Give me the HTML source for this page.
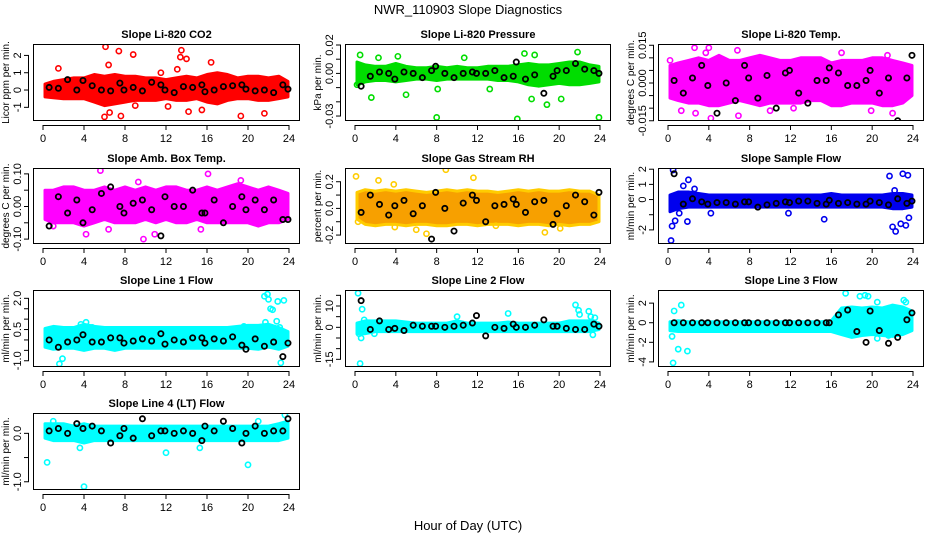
<!DOCTYPE html>
<html><head><meta charset="utf-8">
<style>
html,body{margin:0;padding:0;background:#fff;}
svg{display:block;font-family:"Liberation Sans",sans-serif;}
</style></head>
<body>
<svg id="chart" width="936" height="540" viewBox="0 0 936 540">
<text x="468" y="14" text-anchor="middle" font-size="13">NWR_110903  Slope Diagnostics</text>
<text x="468" y="530" text-anchor="middle" font-size="13">Hour of Day (UTC)</text>
</svg>
<script>
// shared hours
const xTicks = [0,4,8,12,16,20,24];
const bandHours = [0.2,1,2,3,4,5,6,7,8,9,10,11,12,13,14,15,16,17,18,19,20,21,22,23,23.9];
const blackHours = [0.6,1.5,2.4,3.3,3.9,4.8,5.7,6.6,7.5,7.9,8.8,9.7,10.6,11.5,11.9,12.8,13.7,14.6,15.5,15.8,16.7,17.6,18.5,19.4,19.8,20.7,21.6,22.5,23.4,23.9];

// Panel 1: CO2
const co2Ticks = [-1,0,1,2];
const co2Labels = ["-1","0","1","2"];
const co2Lo = [-0.4,-0.45,-0.5,-0.5,-0.5,-0.7,-0.9,-0.8,-0.7,-0.6,-0.6,-0.6,-0.5,-0.6,-0.6,-0.5,-0.7,-0.8,-0.6,-0.5,-0.5,-0.6,-0.6,-0.5,-0.4];
const co2Hi = [0.35,0.5,0.6,0.7,0.7,0.9,0.8,0.9,0.8,0.8,0.7,0.7,0.6,0.7,0.8,0.7,0.9,1.0,0.9,0.7,0.8,0.8,0.7,0.8,0.5];
const co2Out = [[6.1,2.5],[7.4,2.25],[8.8,2.05],[13.5,2.3],[13.4,1.9],[14,1.8],[1.5,1.25],[6.4,1.45],[13.1,1.2],[16.4,1.6],[6,-1.55],[7.6,-1.5],[19.3,-1.5],[21.6,-1.35],[14.2,-1.25],[15.5,-1.15],[9,-0.9],[12.2,-0.95],[6.5,-1.3],[11.5,1.0]];
const co2Black = [0.15,0.1,0.6,0.0,0.55,0.25,0.0,-0.05,0.4,0.0,0.15,-0.05,0.45,0.3,0.0,-0.15,0.2,0.15,0.3,-0.1,0.0,0.2,0.25,0.3,0.05,-0.05,0.0,-0.15,0.3,0.05];

// Panel 2: Pressure
const prTicks = [-0.03,-0.02,-0.01,0,0.01,0.02];
const prLabels = ["-0.03","","","0.00","","0.02"];
const prLo = [-0.008,-0.006,-0.005,-0.005,-0.006,-0.005,-0.004,-0.004,-0.005,-0.004,-0.004,-0.004,-0.004,-0.004,-0.005,-0.005,-0.006,-0.008,-0.009,-0.008,-0.007,-0.008,-0.008,-0.007,-0.006];
const prHi = [0.008,0.006,0.005,0.005,0.007,0.005,0.004,0.004,0.005,0.004,0.005,0.004,0.004,0.005,0.005,0.005,0.006,0.007,0.006,0.006,0.007,0.008,0.008,0.006,0.005];
const prOut = [[0.5,0.013],[2.3,0.011],[4.2,0.012],[10.7,0.011],[16.6,0.014],[17.6,0.013],[21.8,0.015],[1.6,-0.017],[5,-0.015],[8,-0.031],[15.9,-0.032],[23.9,-0.031],[18.8,-0.022],[20.2,-0.018],[17.3,-0.018],[13.2,-0.011],[8.1,-0.011],[0.2,-0.008]];
const prBlack = [-0.009,-0.002,0.001,0.0,-0.004,0.001,0.0,-0.003,0.002,0.005,0.0,-0.003,0.0,0.001,0.0,0.0,0.002,-0.003,-0.002,0.008,-0.004,-0.001,-0.014,-0.002,0.002,0.002,0.007,0.003,0.002,0.0];

// Panel 3: Li-820 Temp
const tpTicks = [-0.015,-0.01,-0.005,0,0.005,0.01,0.015];
const tpLabels = ["-0.015","","","0.000","","","0.015"];
const tpLo = [-0.006,-0.007,-0.008,-0.008,-0.009,-0.009,-0.008,-0.007,-0.008,-0.009,-0.008,-0.008,-0.008,-0.008,-0.007,-0.007,-0.009,-0.009,-0.008,-0.008,-0.008,-0.009,-0.009,-0.008,-0.005];
const tpHi = [0.007,0.008,0.009,0.010,0.009,0.011,0.009,0.009,0.010,0.011,0.010,0.009,0.009,0.010,0.010,0.010,0.008,0.009,0.009,0.009,0.010,0.010,0.009,0.008,0.007];
const tpOut = [[2.6,0.014],[4,0.014],[6.8,0.013],[0.2,0.009],[4.2,-0.014],[6.9,-0.013],[1.3,-0.011],[2.7,-0.012],[22,-0.012],[19.9,-0.011],[10,-0.011],[12.3,-0.010],[17,0.012],[3.7,0.012],[21.5,0.011]];
const tpBlack = [0.001,-0.004,0.002,0.007,-0.001,-0.012,0.0,-0.007,0.007,0.002,-0.006,0.003,-0.010,0.004,0.005,-0.004,-0.008,0.001,0.001,0.006,0.004,-0.001,-0.001,0.001,0.005,-0.004,0.002,-0.015,0.002,0.011];

// Panel 4: Amb Box Temp
const abTicks = [-0.1,-0.05,0,0.05,0.1];
const abLabels = ["-0.10","","0.00","","0.10"];
const abLo = [-0.04,-0.05,-0.05,-0.05,-0.06,-0.05,-0.04,-0.05,-0.05,-0.05,-0.04,-0.05,-0.04,-0.05,-0.05,-0.04,-0.05,-0.05,-0.05,-0.05,-0.05,-0.06,-0.05,-0.05,-0.04];
const abHi = [0.05,0.05,0.06,0.06,0.05,0.05,0.06,0.05,0.06,0.05,0.06,0.05,0.06,0.06,0.05,0.05,0.06,0.05,0.06,0.07,0.06,0.05,0.06,0.05,0.04];
const abOut = [[5.6,0.11],[16.1,0.10],[9.8,-0.10],[4.2,-0.085],[10.9,-0.085],[9.3,0.075],[19.3,0.08],[6.4,-0.07],[15.4,-0.07],[1,-0.06]];
const abBlack = [-0.06,0.03,-0.02,0.02,-0.05,-0.01,0.04,0.06,0.0,-0.02,0.01,0.02,-0.01,-0.09,0.03,0.0,0.0,0.05,-0.02,-0.02,0.02,-0.05,0.0,0.03,-0.01,0.02,-0.01,0.02,-0.04,-0.04];

// Panel 5: Gas Stream RH
const rhTicks = [-0.2,-0.1,0,0.1,0.2];
const rhLabels = ["-0.2","","0.0","","0.2"];
const rhLo = [-0.08,-0.12,-0.13,-0.12,-0.12,-0.13,-0.12,-0.12,-0.13,-0.13,-0.12,-0.12,-0.13,-0.12,-0.12,-0.12,-0.13,-0.12,-0.12,-0.13,-0.12,-0.13,-0.12,-0.12,-0.1];
const rhHi = [0.12,0.14,0.13,0.14,0.13,0.14,0.13,0.12,0.13,0.14,0.13,0.14,0.13,0.13,0.12,0.13,0.14,0.13,0.14,0.13,0.13,0.14,0.13,0.13,0.1];
const rhOut = [[0.1,0.24],[2.3,0.21],[3.8,0.18],[8.9,0.29],[11.6,0.23],[0.3,-0.1],[6,-0.16],[3.9,-0.14],[7,-0.19],[13.8,-0.13],[18.6,-0.18],[20.1,-0.15]];
const rhBlack = [-0.03,0.1,0.03,-0.05,0.02,0.06,-0.04,0.02,-0.23,0.12,0.0,-0.17,0.04,0.1,0.06,-0.1,0.02,0.03,0.07,0.03,-0.03,0.05,0.06,-0.12,-0.04,0.02,0.1,0.05,-0.05,0.12];

// Panel 6: Sample Flow
const sfTicks = [-2,-1,0,1,2];
const sfLabels = ["-2","","0","1","2"];
const sfLo = [-0.8,-0.6,-0.5,-0.5,-0.5,-0.5,-0.5,-0.5,-0.5,-0.5,-0.5,-0.5,-0.5,-0.5,-0.5,-0.5,-0.5,-0.5,-0.5,-0.5,-0.5,-0.5,-0.6,-0.6,-0.5];
const sfHi = [0.3,0.5,0.5,0.4,0.3,0.3,0.3,0.3,0.3,0.3,0.3,0.3,0.3,0.3,0.3,0.3,0.4,0.3,0.3,0.3,0.3,0.3,0.4,0.4,0.3];
const sfOut = [[0.3,-2.7],[0.5,1.95],[0.4,-1.75],[0.7,-1.4],[1.1,-0.9],[1.9,-1.45],[2,1.3],[1.5,0.9],[2.6,0.7],[15.3,-1.3],[21.7,1.55],[22,-1.8],[22.3,-2.1],[22.8,-1.6],[23,1.7],[23.3,-1.7],[23.5,1.6],[23.6,-1.2],[22.2,0.6],[4.2,-0.9],[11.8,-0.9]];
const sfBlack = [1.7,-0.3,0.05,-0.15,-0.3,-0.2,-0.2,-0.3,-0.15,-0.15,-0.5,-0.35,-0.25,-0.15,-0.2,-0.1,-0.1,-0.25,-0.3,-0.05,-0.25,-0.2,-0.3,-0.3,-0.1,-0.2,-0.35,0.05,-0.25,-0.1];

// Panel 7: Line 1 Flow
const l1Ticks = [-1,-0.5,0,0.5,1,1.5,2];
const l1Labels = ["-1.0","","","0.5","","","2.0"];
const l1Lo = [-0.35,-0.45,-0.4,-0.4,-0.5,-0.4,-0.4,-0.5,-0.4,-0.4,-0.4,-0.4,-0.4,-0.4,-0.4,-0.4,-0.4,-0.4,-0.4,-0.4,-0.4,-0.45,-0.35,-0.45,-0.3];
const l1Hi = [0.55,0.65,0.6,0.6,0.75,0.65,0.6,0.6,0.6,0.6,0.6,0.6,0.6,0.6,0.6,0.6,0.6,0.6,0.6,0.65,0.7,0.7,0.75,0.6,0.4];
const l1Out = [[1.6,-1.15],[1.9,-0.9],[4.2,0.85],[3.7,0.75],[4.8,0.6],[21.6,2.1],[21.9,2.2],[22,1.95],[22.2,1.5],[22.4,1.45],[22.9,1.85],[23.5,1.9],[21.7,0.85],[23.1,0.6],[19.6,0.65],[23.2,-1.1],[22.8,0.9]];
const l1Black = [0.0,-0.35,-0.1,0.0,0.25,-0.1,-0.1,0.1,0.1,-0.15,-0.05,0.05,-0.05,0.3,-0.2,0.0,-0.1,0.1,0.1,-0.15,0.05,-0.05,0.15,-0.25,-0.45,0.05,-0.3,-0.1,-0.8,-0.15];

// Panel 8: Line 2 Flow
const l2Ticks = [-15,-10,-5,0,5,10,15];
const l2Labels = ["-15","","","0","","10",""];
const l2Lo = [-3,-3,-2,-2,-2,-2,-2,-2,-2,-2,-2,-2,-2,-2,-2,-2,-2,-2,-2,-2,-2,-2,-2,-2,-1];
const l2Hi = [2,3,3,3,3,2.5,2,2,2,2,3,2,2,2,2,2.5,2,2,2,2,2,3,3,3,2];
const l2Out = [[0.3,16],[0.5,-17],[0.7,8.5],[0.4,-3],[0.6,-5],[1.9,-3],[10,5],[15,6.5],[21.6,10.5],[21.9,8],[22,6],[22.9,7.5],[23.1,5],[23.3,-3.5],[23.5,4.5],[0.9,3.5]];
const l2Black = [12.5,-1,3,-1,-0.5,-1.5,1,0.5,0.5,0.5,0,0.5,1,2,5.5,-4,0,-0.5,1.5,0,0,1,3.5,0.5,0.5,-0.5,-1,-1,1.5,0.5];

// Panel 9: Line 3 Flow
const l3Ticks = [-4,-2,0,2];
const l3Labels = ["-4","-2","0","2"];
const l3Lo = [-0.8,-0.9,-0.9,-0.9,-0.9,-0.9,-0.9,-0.9,-0.9,-0.9,-0.9,-0.9,-0.9,-0.9,-0.9,-0.9,-0.9,-1.2,-1.5,-1.3,-1.2,-1.3,-1.4,-1.2,-0.8];
const l3Hi = [0.1,0.2,0.1,0.1,0.1,0.1,0.1,0.1,0.1,0.1,0.1,0.1,0.1,0.1,0.1,0.1,0.2,1.5,1.6,1.5,1.6,1.5,1.8,1.6,1.2];
const l3Out = [[0.5,-4.1],[0.6,1.2],[1,-2.7],[1.3,1.8],[1.9,-2.9],[0.4,-1.4],[17.4,3.0],[18.8,2.7],[19.3,2.8],[19.6,2.7],[20.5,2.1],[20.5,-1.6],[23.1,2.3],[23.3,2.1],[21.6,-1.3],[21.9,-0.8]];
const l3Black = [0,0,0,0,0,0,0,0,0,0,0,0,0,0,0,0,0,0,0,0,0.8,1.3,-0.9,-2.0,1.2,-0.8,-2.1,-1.5,0.3,1.0];

// Panel 10: Line 4 (LT) Flow
const l4Ticks = [-1,-0.5,0];
const l4Labels = ["-1.0","","0.0"];
const l4Lo = [-0.1,-0.15,-0.15,-0.15,-0.2,-0.15,-0.15,-0.15,-0.15,-0.15,-0.15,-0.15,-0.15,-0.15,-0.15,-0.15,-0.15,-0.15,-0.15,-0.15,-0.15,-0.15,-0.15,-0.15,-0.1];
const l4Hi = [0.2,0.2,0.2,0.15,0.2,0.15,0.15,0.15,0.15,0.15,0.15,0.15,0.15,0.15,0.15,0.15,0.15,0.15,0.15,0.15,0.15,0.15,0.15,0.2,0.25];
const l4Out = [[0.4,-0.6],[4,-1.1],[20,-0.65],[12,-0.4],[3.6,-0.3],[15.3,-0.3],[23.6,0.38],[21,0.25],[1,0.25]];
const l4Black = [0.05,0.1,0.0,0.2,0.1,0.15,0.05,-0.2,-0.05,0.1,-0.1,0.3,-0.05,0.05,0.05,0.0,0.05,0.0,-0.15,0.15,0.05,0.25,0.1,-0.2,0.0,0.15,0.0,0.05,0.05,0.3];

const NS = "http://www.w3.org/2000/svg";
const svg = document.getElementById('chart');
const cols = [[33,300],[345,611],[658,924]];
const rows = [[44,121],[168,244],[290,367],[413,490]];

const panels = [
 {name:"co2",title:"Slope Li-820 CO2",ylab:"Licor ppm per min.",c:0,r:0,dom:[-1.79,2.66],ticks:co2Ticks,labels:co2Labels,lo:co2Lo,hi:co2Hi,out:co2Out,blk:co2Black,fill:"#ff0000",pt:"#ff0000"},
 {name:"pressure",title:"Slope Li-820 Pressure",ylab:"kPa per min.",c:1,r:0,dom:[-0.0335,0.0207],ticks:prTicks,labels:prLabels,lo:prLo,hi:prHi,out:prOut,blk:prBlack,fill:"#00dd00",pt:"#00dd00"},
 {name:"li820-temp",title:"Slope Li-820 Temp.",ylab:"degrees C per min.",c:2,r:0,dom:[-0.0151,0.0155],ticks:tpTicks,labels:tpLabels,lo:tpLo,hi:tpHi,out:tpOut,blk:tpBlack,fill:"#ff00ff",pt:"#ff00ff"},
 {name:"amb-box-temp",title:"Slope Amb. Box Temp.",ylab:"degrees C per min.",c:0,r:1,dom:[-0.115,0.118],ticks:abTicks,labels:abLabels,lo:abLo,hi:abHi,out:abOut,blk:abBlack,fill:"#ff00ff",pt:"#ff00ff"},
 {name:"gas-stream-rh",title:"Slope Gas Stream RH",ylab:"percent per min.",c:1,r:1,dom:[-0.267,0.303],ticks:rhTicks,labels:rhLabels,lo:rhLo,hi:rhHi,out:rhOut,blk:rhBlack,fill:"#f7a000",pt:"#ffcc00"},
 {name:"sample-flow",title:"Slope Sample Flow",ylab:"ml/min per min.",c:2,r:1,dom:[-2.93,2.08],ticks:sfTicks,labels:sfLabels,lo:sfLo,hi:sfHi,out:sfOut,blk:sfBlack,fill:"#0000ee",pt:"#0000ee"},
 {name:"line1-flow",title:"Slope Line 1 Flow",ylab:"ml/min per min.",c:0,r:2,dom:[-1.30,2.40],ticks:l1Ticks,labels:l1Labels,lo:l1Lo,hi:l1Hi,out:l1Out,blk:l1Black,fill:"#00ffff",pt:"#00ffff"},
 {name:"line2-flow",title:"Slope Line 2 Flow",ylab:"ml/min per min.",c:1,r:2,dom:[-18.6,17.5],ticks:l2Ticks,labels:l2Labels,lo:l2Lo,hi:l2Hi,out:l2Out,blk:l2Black,fill:"#00ffff",pt:"#00ffff"},
 {name:"line3-flow",title:"Slope Line 3 Flow",ylab:"ml/min per min.",c:2,r:2,dom:[-4.52,3.34],ticks:l3Ticks,labels:l3Labels,lo:l3Lo,hi:l3Hi,out:l3Out,blk:l3Black,fill:"#00ffff",pt:"#00ffff"},
 {name:"line4-flow",title:"Slope Line 4 (LT) Flow",ylab:"ml/min per min.",c:0,r:3,dom:[-1.17,0.42],ticks:l4Ticks,labels:l4Labels,lo:l4Lo,hi:l4Hi,out:l4Out,blk:l4Black,fill:"#00ffff",pt:"#00ffff"}
];

function mk(tag, attrs, parent){
  const e=document.createElementNS(NS,tag);
  for(const k in attrs) e.setAttribute(k,attrs[k]);
  parent.appendChild(e); return e;
}

panels.forEach(p=>{
  const L=cols[p.c][0], R=cols[p.c][1], T=rows[p.r][0], B=rows[p.r][1];
  const xs = h => (L+10) + h/24*((R-11)-(L+10));
  const ys = v => B - (v-p.dom[0])/(p.dom[1]-p.dom[0])*(B-T);
  const g=mk('g',{},svg);
  
  
  const cp=mk('clipPath',{id:'clip-'+p.name},g);
  mk('rect',{x:L,y:T,width:R-L,height:B-T},cp);
  const plot=mk('g',{'clip-path':'url(#clip-'+p.name+')'},g);
  
  
  // band
  let d='';
  bandHours.forEach((h,i)=>{ d+=(i?'L':'M')+xs(h).toFixed(1)+' '+ys(p.hi[i]).toFixed(1); });
  for(let i=bandHours.length-1;i>=0;i--) d+='L'+xs(bandHours[i]).toFixed(1)+' '+ys(p.lo[i]).toFixed(1);
  d+='Z';
  const band=mk('path',{d:d,fill:p.fill,stroke:p.pt,'stroke-width':3,'stroke-linejoin':'round'},plot);
  
  
  // outliers
  p.out.forEach(o=>{
    const c=mk('circle',{cx:xs(o[0]),cy:ys(o[1]),r:2.6,fill:'none',stroke:p.pt,'stroke-width':1.6},plot);
    
    
  });
  // black hourly points
  blackHours.forEach((h,i)=>{
    const c=mk('circle',{cx:xs(h),cy:ys(p.blk[i]),r:2.6,fill:'none',stroke:'#000','stroke-width':1.8},plot);
    
    
  });
  // box
  const box=mk('rect',{x:L+0.5,y:T+0.5,width:R-L-1,height:B-T-1,fill:'none',stroke:'#000','stroke-width':1},g);
  
  
  // title
  const t=mk('text',{x:(L+R)/2,y:T-6,'text-anchor':'middle','font-size':11,'font-weight':'bold'},g);
  t.textContent=p.title;
  
  
  // x axis
  const xa=mk('g',{},g);
  
  
  mk('line',{x1:xs(xTicks[0]),x2:xs(xTicks[xTicks.length-1]),y1:B+4.5,y2:B+4.5,stroke:'#000'},xa);
  xTicks.forEach(v=>{
    mk('line',{x1:xs(v),x2:xs(v),y1:B+4,y2:B+9,stroke:'#000'},xa);
    const tl=mk('text',{x:xs(v),y:B+21,'text-anchor':'middle','font-size':11},xa);
    tl.textContent=v;
    
    
  });
  // y axis
  const ya=mk('g',{},g);
  
  
  mk('line',{x1:L-4.5,x2:L-4.5,y1:ys(p.ticks[0]),y2:ys(p.ticks[p.ticks.length-1]),stroke:'#000'},ya);
  p.ticks.forEach((v,i)=>{
    mk('line',{x1:L-9,x2:L-4,y1:ys(v),y2:ys(v),stroke:'#000'},ya);
    if(p.labels[i]){
      const tx=L-12, ty=ys(v);
      const tl=mk('text',{x:tx,y:ty,'text-anchor':'middle','font-size':11,transform:'rotate(-90 '+tx+' '+ty+')'},ya);
      tl.textContent=p.labels[i];
      
      
    }
  });
  const yx=L-24, yy=(T+B)/2;
  const yl=mk('text',{x:yx,y:yy,'text-anchor':'middle','font-size':10,transform:'rotate(-90 '+yx+' '+yy+')'},g);
  yl.textContent=p.ylab;
  
  
});
</script>
</body></html>
